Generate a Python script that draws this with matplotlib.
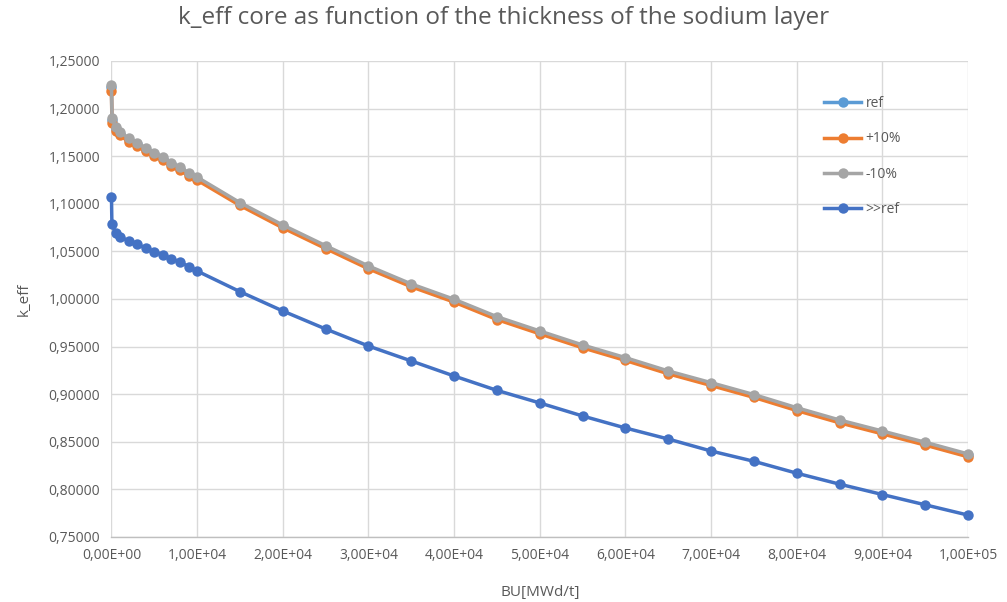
import matplotlib
matplotlib.use("Agg")
import matplotlib.pyplot as plt
from matplotlib.ticker import FuncFormatter, MultipleLocator

# Burnup steps [MWd/t]
bu = [0, 50, 500, 1000, 2000, 3000, 4000, 5000, 6000, 7000, 8000, 9000, 10000,
      15000, 20000, 25000, 30000, 35000, 40000, 45000, 50000, 55000, 60000,
      65000, 70000, 75000, 80000, 85000, 90000, 95000, 100000]

# k_eff for the -10% sodium layer
k_minus10 = [1.2248, 1.1898, 1.1810, 1.1757, 1.1688, 1.1642, 1.1583, 1.1537, 1.1488,
             1.1432, 1.1383, 1.1327, 1.1280, 1.1012, 1.0777, 1.0560, 1.0347, 1.0158,
             0.9997, 0.9814, 0.9664, 0.9517, 0.9384, 0.9244, 0.9121, 0.8996, 0.8858,
             0.8729, 0.8613, 0.8495, 0.8372]

# k_eff for the reference layer
k_ref = [1.2225, 1.1880, 1.1790, 1.1738, 1.1670, 1.1625, 1.1566, 1.1521, 1.1472,
         1.1416, 1.1367, 1.1311, 1.1264, 1.0997, 1.0762, 1.0545, 1.0332, 1.0143,
         0.9982, 0.9799, 0.9649, 0.9502, 0.9369, 0.9229, 0.9106, 0.8981, 0.8843,
         0.8714, 0.8598, 0.8480, 0.8357]

# k_eff for the +10% sodium layer
k_plus10 = [1.2188, 1.1850, 1.1760, 1.1718, 1.1652, 1.1608, 1.1550, 1.1505, 1.1455,
            1.1400, 1.1350, 1.1295, 1.1248, 1.0982, 1.0747, 1.0530, 1.0317, 1.0128,
            0.9967, 0.9784, 0.9634, 0.9487, 0.9354, 0.9214, 0.9091, 0.8966, 0.8828,
            0.8699, 0.8583, 0.8465, 0.8342]

# k_eff for the much thicker layer
k_far = [1.1068, 1.0785, 1.0690, 1.0655, 1.0609, 1.0578, 1.0532, 1.0497, 1.0466,
         1.0417, 1.0392, 1.0339, 1.0294, 1.0077, 0.9874, 0.9685, 0.9506, 0.9349,
         0.9191, 0.9040, 0.8908, 0.8771, 0.8645, 0.8529, 0.8403, 0.8295, 0.8170,
         0.8055, 0.7946, 0.7838, 0.7730]

series = [
    ("ref", k_ref, "#5B9BD5"),
    ("+10%", k_plus10, "#ED7D31"),
    ("-10%", k_minus10, "#A5A5A5"),
    (">>ref", k_far, "#4472C4"),
]

plt.rcParams["font.family"] = ["Open Sans", "DejaVu Sans"]

fig = plt.figure(figsize=(10.07, 6.02), dpi=100)
ax = fig.add_axes([0.1107, 0.108, 0.8506, 0.7907])

for name, vals, col in series:
    ax.plot(bu, vals, color=col, lw=2.5, marker="o", ms=7.5,
            markeredgewidth=0, label=name, clip_on=False)

ax.set_xlim(0, 100000)
ax.set_ylim(0.75, 1.25)
ax.xaxis.set_major_locator(MultipleLocator(10000))
ax.yaxis.set_major_locator(MultipleLocator(0.05))


def fmt_y(v, pos):
    return f"{v:.5f}".replace(".", ",")


def fmt_x(v, pos):
    return f"{v:.2E}".replace(".", ",")


ax.yaxis.set_major_formatter(FuncFormatter(fmt_y))
ax.xaxis.set_major_formatter(FuncFormatter(fmt_x))

ax.grid(True, color="#D9D9D9", lw=1.0)
ax.set_axisbelow(True)
for s in ("top", "right", "left"):
    ax.spines[s].set_visible(False)
ax.spines["bottom"].set_color("#BFBFBF")
ax.spines["bottom"].set_linewidth(1.0)
ax.tick_params(axis="both", length=0, labelsize=10, colors="#595959", pad=8)

ax.set_xlabel("BU[MWd/t]", fontsize=11, color="#595959", labelpad=16)
ax.set_ylabel("k_eff", fontsize=11, color="#595959", labelpad=12)

fig.suptitle("k_eff core as function of the thickness of the sodium layer",
             fontsize=17.5, color="#595959", y=0.99, va="top")

leg = ax.legend(loc="upper left", bbox_to_anchor=(0.817, 0.952), frameon=False,
                fontsize=10, labelspacing=1.45, handlelength=2.7,
                handletextpad=0.3, labelcolor="#595959")

fig.savefig("out.png", dpi=100)
